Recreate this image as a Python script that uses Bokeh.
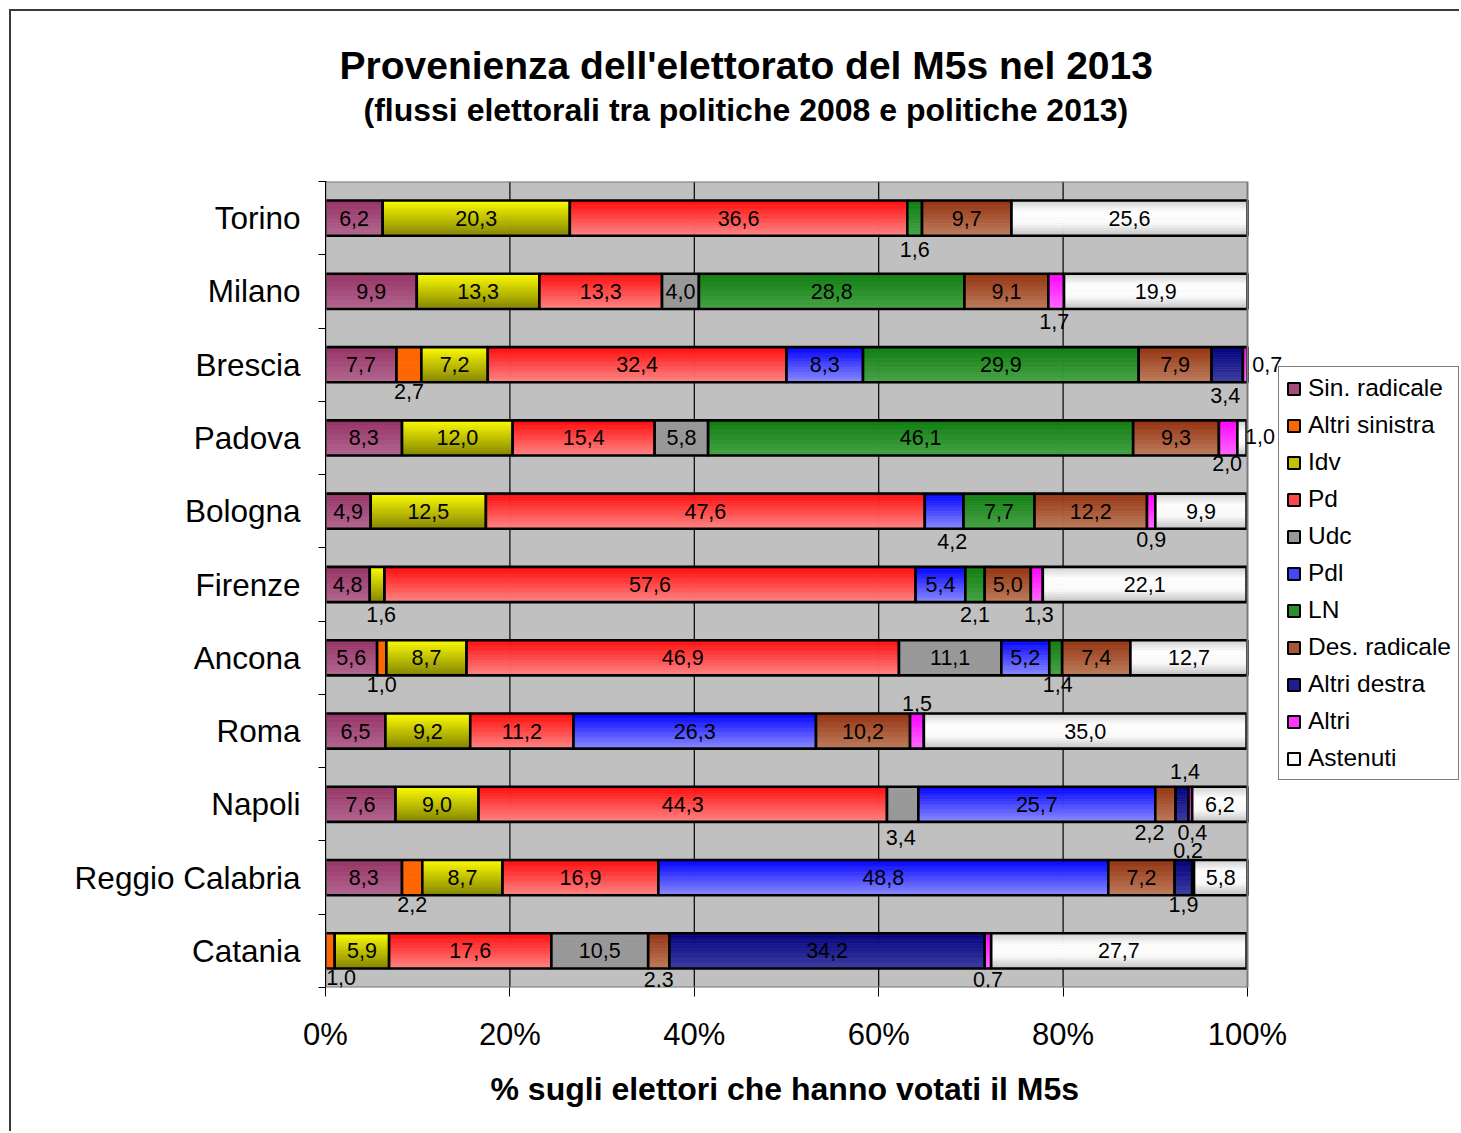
import numpy as np
from bokeh.plotting import figure
from bokeh.models import (Range1d, FixedTicker, Legend, LegendItem, Title, ColumnDataSource)
from bokeh.core.properties import value
from bokeh.embed import file_html
from bokeh.resources import INLINE

# ---------------- data ----------------
cities = ["Torino", "Milano", "Brescia", "Padova", "Bologna", "Firenze",
          "Ancona", "Roma", "Napoli", "Reggio Calabria", "Catania"]
series = ["Sin. radicale", "Altri sinistra", "Idv", "Pd", "Udc", "Pdl", "LN",
          "Des. radicale", "Altri destra", "Altri", "Astenuti"]

sin_radicale   = [6.2, 9.9, 7.7, 8.3, 4.9, 4.8, 5.6, 6.5, 7.6, 8.3, 0.0]
altri_sinistra = [0.0, 0.0, 2.7, 0.0, 0.0, 0.0, 1.0, 0.0, 0.0, 2.2, 1.0]
idv            = [20.3, 13.3, 7.2, 12.0, 12.5, 1.6, 8.7, 9.2, 9.0, 8.7, 5.9]
pd_            = [36.6, 13.3, 32.4, 15.4, 47.6, 57.6, 46.9, 11.2, 44.3, 16.9, 17.6]
udc            = [0.0, 4.0, 0.0, 5.8, 0.0, 0.0, 11.1, 0.0, 3.4, 0.0, 10.5]
pdl            = [0.0, 0.0, 8.3, 0.0, 4.2, 5.4, 5.2, 26.3, 25.7, 48.8, 0.0]
ln             = [1.6, 28.8, 29.9, 46.1, 7.7, 2.1, 1.4, 0.0, 0.0, 0.0, 0.0]
des_radicale   = [9.7, 9.1, 7.9, 9.3, 12.2, 5.0, 7.4, 10.2, 2.2, 7.2, 2.3]
altri_destra   = [0.0, 0.0, 3.4, 0.0, 0.0, 0.0, 0.0, 0.0, 1.4, 1.9, 34.2]
altri          = [0.0, 1.7, 0.7, 2.0, 0.9, 1.3, 0.0, 1.5, 0.4, 0.2, 0.7]
astenuti       = [25.6, 19.9, 0.0, 1.0, 9.9, 22.1, 12.7, 35.0, 6.2, 5.8, 27.7]

values = [sin_radicale, altri_sinistra, idv, pd_, udc, pdl, ln,
          des_radicale, altri_destra, altri, astenuti]

x_ticks = [0, 20, 40, 60, 80, 100]
x_tick_labels = ["0%", "20%", "40%", "60%", "80%", "100%"]

title_text = "Provenienza dell'elettorato del M5s nel 2013"
subtitle_text = "(flussi elettorali tra politiche 2008 e politiche 2013)"
x_title = "% sugli elettori che hanno votati il M5s"

# ---------------- styling ----------------
gradients = {
    "Sin. radicale": ["#963366", "#B2668F"],
    "Altri sinistra": ["#FF6600", "#FF6600"],
    "Idv": ["#FFFF00", "#858500"],
    "Pd": ["#FF0A0A", "#FF8484"],
    "Udc": ["#989898", "#989898"],
    "Pdl": ["#0000FF", "#8A8AFF"],
    "LN": ["#0F7D0F", "#46A346"],
    "Des. radicale": ["#933210", "#BE7C5C"],
    "Altri destra": ["#00007E", "#3D3DA2"],
    "Altri": ["#FF00FF", "#FF6AFF"],
    "Astenuti": ["#CFCFCF", "#FFFFFF", "#FAFAFA", "#C4C4C4"],
}

# label offsets (px) for small segments: (dx, dy), dy positive = downward
label_pos = {
    ("Torino", "LN"): (0, 31),
    ("Milano", "Altri"): (-2, 30),
    ("Brescia", "Altri sinistra"): (0, 27),
    ("Brescia", "Altri destra"): (-2, 31),
    ("Brescia", "Altri"): (22, 0),
    ("Padova", "Altri"): (-1, 26),
    ("Padova", "Astenuti"): (18, -1),
    ("Bologna", "Pdl"): (8, 30),
    ("Bologna", "Altri"): (0, 28),
    ("Firenze", "Idv"): (4, 30),
    ("Firenze", "LN"): (0, 30),
    ("Firenze", "Altri"): (2, 30),
    ("Ancona", "Altri sinistra"): (0, 27),
    ("Ancona", "LN"): (2, 27),
    ("Roma", "Altri"): (0, -28),
    ("Napoli", "Udc"): (-2, 33),
    ("Napoli", "Des. radicale"): (-16, 28),
    ("Napoli", "Altri destra"): (3, -33),
    ("Napoli", "Altri"): (2, 28),
    ("Reggio Calabria", "Altri sinistra"): (0, 27),
    ("Reggio Calabria", "Altri destra"): (0, 27),
    ("Reggio Calabria", "Altri"): (-5, -27),
    ("Catania", "Altri sinistra"): (11, 27),
    ("Catania", "Des. radicale"): (0, 29),
    ("Catania", "Altri"): (0, 29),
}

FONT = "Liberation Sans"
BAR_H = 0.48
N_STRIPS = 14

# page layout (px)
OX, OY = 11, 11            # canvas origin on the page (margin + border)
W, H = 1450, 1122
PLOT_L, PLOT_R, PLOT_T, PLOT_B = 325, 1247, 181, 987
X_MAX = 100.0 * ((OX + W) - PLOT_L) / (PLOT_R - PLOT_L)


def hex2rgb(h):
    h = h.lstrip("#")
    return np.array([int(h[i:i + 2], 16) for i in (0, 2, 4)], dtype=float)


def interp(stops, t):
    if len(stops) == 1:
        return stops[0]
    pos = t * (len(stops) - 1)
    i = min(int(pos), len(stops) - 2)
    f = pos - i
    c = hex2rgb(stops[i]) * (1 - f) + hex2rgb(stops[i + 1]) * f
    return "#%02x%02x%02x" % tuple(int(round(v)) for v in c)


# ---------------- figure ----------------
n = len(cities)
p = figure(width=W, height=H, output_backend="svg", toolbar_location=None,
           x_range=Range1d(0, X_MAX), y_range=Range1d(n - 0.5, -0.5),
           min_border_left=PLOT_L - OX, min_border_right=0,
           min_border_top=PLOT_T - OY, min_border_bottom=(OY + H) - PLOT_B,
           background_fill_color="white", border_fill_color="white")
p.title.text = ""
p.title.visible = False
p.outline_line_color = None
p.styles = {"margin-left": "9px", "margin-top": "9px",
            "border-top": "2px solid #3A3A3A", "border-left": "2px solid #3A3A3A"}

# plot area background, grid and border
p.quad(left=[0], right=[100], bottom=[n - 0.5], top=[-0.5],
       fill_color="#C0C0C0", line_color=None)
p.segment(x0=x_ticks[1:-1], x1=x_ticks[1:-1], y0=[n - 0.5] * 4, y1=[-0.5] * 4,
          line_color="black", line_width=1.2)

# x axis
p.xaxis.ticker = FixedTicker(ticks=x_ticks, minor_ticks=[])
p.xaxis.major_label_overrides = {t: l for t, l in zip(x_ticks, x_tick_labels)}
p.xaxis.major_label_text_font = FONT
p.xaxis.major_label_text_font_size = "31px"
p.xaxis.major_label_text_color = "black"
p.xaxis.major_tick_out = 9
p.xaxis.major_tick_in = 0
p.xaxis.major_tick_line_color = "black"
p.xaxis.axis_line_color = None
p.xaxis.major_label_standoff = 20

# y axis
p.yaxis.ticker = FixedTicker(ticks=list(range(n)), minor_ticks=[i - 0.5 for i in range(n + 1)])
p.yaxis.major_label_overrides = {i: c for i, c in enumerate(cities)}
p.yaxis.major_label_text_font = FONT
p.yaxis.major_label_text_font_size = "31.5px"
p.yaxis.major_label_text_color = "black"
p.yaxis.major_tick_out = 0
p.yaxis.major_tick_in = 0
p.yaxis.minor_tick_out = 7
p.yaxis.minor_tick_in = 0
p.yaxis.minor_tick_line_color = "black"
p.yaxis.axis_line_color = "black"
p.yaxis.axis_line_width = 1
p.yaxis.major_label_standoff = 18

p.xgrid.visible = False
p.ygrid.visible = False

# ---------------- bars ----------------
idx = np.arange(n)
lefts = np.zeros(n)
legend_items = []
lab_x, lab_y, lab_t, lab_dx, lab_dy = [], [], [], [], []
for s, vals in zip(series, values):
    vals = np.array(vals, dtype=float)
    rights = np.minimum(lefts + vals, 100.0)
    mask = vals > 0
    stops = gradients[s]
    for k in range(N_STRIPS):
        t = (k + 0.5) / N_STRIPS
        col = interp(stops, t)
        ys = idx[mask] - BAR_H / 2 + (k + 0.5) * BAR_H / N_STRIPS
        p.hbar(y=ys, left=lefts[mask], right=rights[mask],
               height=BAR_H / N_STRIPS * 1.02, fill_color=col,
               line_color=col, line_width=0.6)
    p.hbar(y=idx[mask], left=lefts[mask], right=rights[mask], height=BAR_H,
           fill_color=None, line_color="black", line_width=2.6)
    # legend proxy (outside the visible range)
    r = p.hbar(y=[-5], left=[0], right=[0], height=0.1,
               fill_color=interp(stops, 0.5), line_color="black", line_width=2)
    legend_items.append(LegendItem(label=s, renderers=[r]))
    for i in np.where(mask)[0]:
        dx, dy = label_pos.get((cities[i], s), (0, 0))
        lab_x.append((lefts[i] + rights[i]) / 2)
        lab_y.append(i)
        lab_t.append(("%.1f" % vals[i]).replace(".", ","))
        lab_dx.append(dx)
        lab_dy.append(dy)
    lefts = lefts + vals

# plot area frame (top / right / bottom edges)
p.quad(left=[0], right=[100], bottom=[n - 0.5], top=[-0.5],
       fill_color=None, line_color="#7A7A7A", line_width=2)

src = ColumnDataSource(dict(x=lab_x, y=lab_y, text=lab_t, dx=lab_dx, dy=lab_dy))
p.text(x="x", y="y", text="text", x_offset="dx", y_offset="dy", source=src,
       text_font=value(FONT), text_font_size="21.5px", text_color="black",
       text_align="center", text_baseline="middle")

# ---------------- legend ----------------
legend = Legend(items=legend_items, location=(1278 - PLOT_L, PLOT_B - 780), margin=0,
                label_text_font=FONT, label_text_font_size="24.5px",
                label_text_color="black",
                glyph_width=15, glyph_height=15, label_height=20,
                label_standoff=7, spacing=9, padding=7,
                border_line_color="black", border_line_width=1,
                background_fill_color="white", background_fill_alpha=1.0)
p.add_layout(legend, "center")

# ---------------- titles ----------------
spacer = Title(text=" ", text_font_size="2px", standoff=49)
sub = Title(text=subtitle_text, align="left", offset=38, vertical_align="middle",
            standoff=0, text_font=FONT, text_font_style="bold",
            text_font_size="32px", text_color="black")
ttl = Title(text=title_text, align="left", offset=14, vertical_align="middle",
            standoff=5, text_font=FONT, text_font_style="bold",
            text_font_size="39px", text_color="black")
p.add_layout(spacer, "above")
p.add_layout(sub, "above")
p.add_layout(ttl, "above")

xlab = Title(text=x_title, align="left", offset=165, vertical_align="middle",
             standoff=30, text_font=FONT, text_font_style="bold",
             text_font_size="32px", text_color="black")
p.add_layout(xlab, "below")

open("out.html", "w").write(file_html(p, INLINE))
